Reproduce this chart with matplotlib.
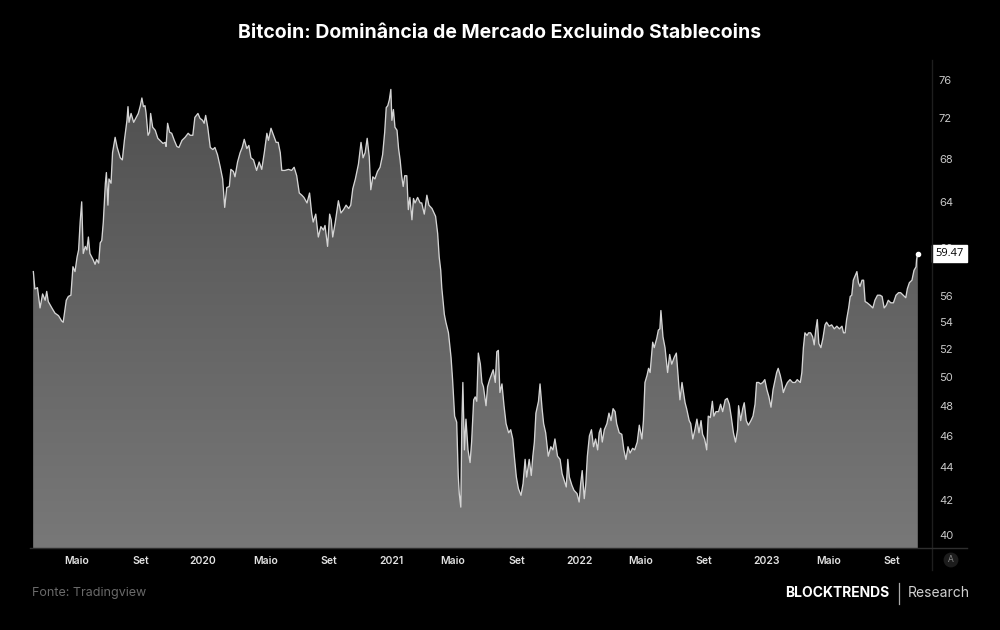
import numpy as np
import pandas as pd
import matplotlib.pyplot as plt
import matplotlib.dates as mdates
import matplotlib.transforms as mtransforms
from matplotlib.colors import LinearSegmentedColormap
from matplotlib.ticker import FixedLocator, NullLocator, FixedFormatter

# days since 2019-01-01 and the market dominance (%)
days = [
    35, 38, 43, 48, 53, 58, 61, 64, 71, 77,
    84, 90, 93, 99, 103, 108, 112, 116, 120, 123,
    126, 129, 132, 136, 139, 142, 145, 151, 155, 158,
    162, 165, 168, 171, 175, 177, 180, 182, 186, 189,
    194, 198, 204, 208, 212, 217, 219, 221, 225, 230,
    235, 239, 243, 246, 249, 252, 254, 258, 261, 263,
    267, 272, 277, 281, 287, 291, 293, 296, 300, 304,
    309, 314, 318, 324, 330, 336, 340, 345, 349, 355,
    359, 364, 367, 370, 374, 379, 384, 388, 393, 398,
    403, 407, 411, 416, 419, 424, 427, 432, 437, 441,
    445, 450, 454, 458, 463, 469, 474, 479, 484, 489,
    492, 497, 502, 507, 511, 515, 518, 524, 531, 537,
    542, 547, 552, 557, 561, 567, 572, 576, 579, 584,
    589, 594, 599, 602, 607, 611, 614, 617, 622, 628,
    633, 638, 643, 648, 652, 656, 661, 667, 672, 676,
    680, 684, 688, 691, 695, 699, 704, 709, 714, 718,
    721, 724, 727, 730, 732, 735, 738, 742, 745, 748,
    751, 754, 757, 761, 764, 767, 771, 774, 777, 782,
    787, 790, 795, 800, 804, 810, 814, 817, 821, 824,
    827, 829, 834, 837, 842, 847, 850, 854, 858, 861,
    863, 866, 868, 870, 873, 876, 880, 884, 887, 891,
    894, 897, 900, 904, 907, 910, 915, 918, 922, 926,
    929, 933, 936, 939, 942, 946, 950, 954, 959, 963,
    967, 970, 974, 978, 983, 987, 991, 994, 999, 1003,
    1006, 1009, 1012, 1017, 1020, 1024, 1027, 1031, 1036, 1041,
    1045, 1049, 1054, 1059, 1063, 1067, 1071, 1074, 1077, 1082,
    1086, 1092, 1096, 1099, 1102, 1106, 1109, 1112, 1116, 1120,
    1124, 1128, 1132, 1135, 1138, 1141, 1145, 1150, 1154, 1158,
    1162, 1166, 1169, 1174, 1179, 1183, 1187, 1191, 1195, 1200,
    1204, 1209, 1213, 1218, 1221, 1224, 1228, 1231, 1234, 1239,
    1242, 1247, 1250, 1253, 1255, 1259, 1263, 1268, 1272, 1276,
    1281, 1285, 1288, 1292, 1296, 1299, 1302, 1305, 1310, 1313,
    1317, 1321, 1325, 1329, 1333, 1336, 1340, 1344, 1347, 1351,
    1355, 1358, 1362, 1367, 1371, 1375, 1380, 1384, 1388, 1392,
    1396, 1400, 1404, 1406, 1410, 1414, 1417, 1421, 1425, 1430,
    1434, 1438, 1441, 1445, 1449, 1453, 1457, 1461, 1465, 1469,
    1473, 1476, 1480, 1483, 1487, 1490, 1493, 1497, 1501, 1506,
    1511, 1516, 1520, 1526, 1529, 1532, 1535, 1539, 1542, 1546,
    1550, 1553, 1556, 1559, 1562, 1566, 1570, 1574, 1577, 1582,
    1587, 1592, 1597, 1602, 1607, 1610, 1613, 1616, 1620, 1623,
    1626, 1629, 1633, 1636, 1639, 1642, 1646, 1649, 1652, 1656,
    1662, 1667, 1671, 1676, 1681, 1685, 1689, 1693, 1697, 1702,
    1707, 1712, 1717, 1721, 1726, 1731, 1734, 1738, 1743, 1747,
    1751, 1752, 1754,
]
dominance = [
    58.0, 56.6, 56.7, 55.1, 56.2, 55.7, 56.4, 55.6, 55.1, 54.7,
    54.5, 54.1, 54.0, 55.7, 56.0, 56.1, 58.4, 58.0, 59.2, 59.8,
    62.2, 64.0, 59.5, 60.1, 59.8, 60.9, 59.5, 59.0, 58.6, 59.0,
    58.7, 60.4, 60.6, 62.2, 65.7, 66.7, 63.7, 66.1, 65.7, 68.6,
    70.1, 69.1, 68.1, 67.9, 69.8, 71.8, 73.2, 71.6, 72.5, 71.6,
    72.1, 72.5, 73.3, 74.1, 73.2, 73.3, 72.6, 70.3, 70.6, 72.5,
    71.1, 70.8, 70.0, 69.8, 69.5, 69.6, 69.2, 71.5, 70.6, 70.5,
    69.8, 69.2, 69.1, 69.8, 70.1, 70.5, 70.3, 70.3, 72.1, 72.5,
    72.0, 71.8, 71.5, 72.3, 71.1, 69.1, 68.9, 69.1, 68.4, 67.3,
    66.1, 63.5, 65.3, 65.4, 67.0, 66.8, 66.3, 67.7, 68.6, 69.1,
    69.9, 69.0, 69.3, 68.1, 67.9, 66.9, 67.7, 67.0, 68.6, 70.5,
    69.8, 71.0, 70.3, 69.6, 69.6, 68.6, 66.9, 66.9, 67.0, 66.9,
    67.2, 66.4, 64.8, 64.6, 64.4, 63.9, 64.8, 63.0, 62.2, 62.9,
    60.9, 61.8, 61.5, 61.9, 60.1, 62.9, 62.4, 60.9, 62.2, 64.1,
    63.0, 63.3, 63.7, 63.4, 63.7, 65.2, 66.1, 67.5, 69.6, 68.1,
    68.6, 70.0, 68.2, 65.1, 66.3, 66.1, 66.8, 67.2, 68.4, 70.6,
    73.1, 73.3, 73.9, 75.0, 71.8, 72.9, 71.1, 70.8, 69.0, 67.9,
    66.4, 65.4, 66.4, 66.4, 63.3, 64.4, 62.4, 64.3, 63.9, 64.4,
    63.9, 63.9, 62.9, 64.6, 63.7, 63.4, 63.0, 62.7, 61.2, 59.2,
    58.1, 56.7, 54.6, 54.0, 53.2, 51.4, 49.8, 47.3, 46.9, 43.5,
    42.4, 41.6, 46.8, 49.6, 45.1, 47.1, 45.1, 44.3, 45.6, 48.4,
    48.6, 48.3, 51.7, 50.9, 49.6, 49.3, 48.0, 49.3, 49.8, 50.2,
    50.5, 49.6, 51.8, 51.9, 48.9, 49.5, 48.0, 46.8, 46.2, 46.4,
    45.8, 44.7, 43.4, 42.7, 42.3, 43.0, 44.5, 43.4, 44.5, 43.5,
    44.7, 45.6, 47.5, 48.3, 49.5, 47.8, 46.8, 46.2, 44.7, 45.3,
    45.1, 45.8, 44.7, 44.5, 43.6, 43.2, 42.8, 44.5, 43.4, 42.9,
    42.6, 42.4, 41.9, 43.0, 43.8, 42.1, 43.0, 44.7, 46.0, 46.4,
    45.3, 45.8, 45.1, 46.2, 46.5, 45.6, 46.4, 46.8, 47.5, 47.0,
    47.8, 47.6, 46.8, 46.2, 46.1, 45.1, 44.5, 45.3, 44.9, 45.2,
    45.1, 45.6, 46.7, 45.8, 47.0, 49.6, 50.1, 50.6, 50.3, 52.5,
    52.1, 52.8, 53.4, 53.5, 54.9, 52.9, 52.1, 50.3, 51.6, 50.9,
    51.4, 51.7, 50.3, 48.4, 49.6, 48.9, 48.2, 47.8, 47.0, 46.8,
    45.8, 46.4, 47.1, 46.2, 47.0, 46.1, 45.8, 45.1, 47.3, 47.2,
    48.3, 47.3, 47.6, 47.6, 48.1, 47.6, 48.4, 48.5, 48.1, 47.2,
    46.2, 45.6, 46.4, 48.0, 47.0, 47.8, 48.2, 47.0, 46.7, 47.0,
    47.3, 48.1, 49.6, 49.6, 49.5, 49.6, 49.8, 49.1, 48.6, 47.9,
    49.1, 49.6, 50.3, 50.6, 50.1, 49.6, 48.9, 49.3, 49.6, 49.8,
    49.6, 49.6, 49.8, 49.6, 50.3, 52.1, 53.2, 53.0, 53.2, 53.2,
    52.9, 52.3, 53.4, 54.2, 52.4, 52.1, 52.8, 53.8, 54.0, 53.7,
    53.8, 53.5, 53.7, 53.5, 53.7, 53.2, 53.2, 54.2, 55.1, 56.0,
    56.1, 57.3, 57.7, 58.0, 57.1, 56.8, 57.3, 57.3, 55.6, 55.5,
    55.3, 55.1, 55.7, 56.1, 56.1, 56.0, 55.1, 55.3, 55.7, 55.5,
    55.5, 56.1, 56.3, 56.3, 56.1, 55.9, 56.6, 57.1, 57.3, 58.1,
    58.4, 59.0, 59.47,
]

yticks = [40, 42, 44, 46, 48, 50, 52, 54, 56, 60, 64, 68, 72, 76]
tick_dates = ["2019-05-01", "2019-09-01", "2020-01-01", "2020-05-01", "2020-09-01",
              "2021-01-01", "2021-05-01", "2021-09-01", "2022-01-01", "2022-05-01",
              "2022-09-01", "2023-01-01", "2023-05-01", "2023-09-01"]
tick_labels = ["Maio", "Set", "2020", "Maio", "Set", "2021", "Maio", "Set",
               "2022", "Maio", "Set", "2023", "Maio", "Set"]
last_value = 59.47

start = pd.Timestamp("2019-01-01")
dates = start + pd.to_timedelta(days, unit="D")
x = mdates.date2num(dates)

fig = plt.figure(figsize=(10, 6.3), dpi=100, facecolor="black")
ax = fig.add_axes([0.03, 0.1302, 0.902, 0.7714])
ax.set_facecolor("black")
ax.set_yscale("log")

ybottom = 39.27
ytop = 77.96
xmin = mdates.date2num(start + pd.Timedelta(days=28.5))
xmax = mdates.date2num(start + pd.Timedelta(days=1782))
ax.set_xlim(xmin, xmax)
ax.set_ylim(ybottom, ytop)

# area with a vertical grey gradient, clipped to the filled shape
poly = ax.fill_between(x, dominance, ybottom, facecolor="#666666", edgecolor="none", zorder=1)
cmap = LinearSegmentedColormap.from_list("g", ["#787878", "#4e4e4e"])
grad = np.linspace(0, 1, 256).reshape(-1, 1)
img = ax.imshow(grad, cmap=cmap, origin="lower", aspect="auto",
                extent=[0, 1, 0, 1], transform=ax.transAxes, zorder=2)
img.set_clip_path(poly.get_paths()[0], transform=ax.transData)

ax.plot(x, dominance, color="#d4d4d4", lw=0.95, zorder=3)
ax.plot(x[-1], dominance[-1], "o", ms=3, color="white", zorder=4)

ax.set_xlim(xmin, xmax)
ax.set_ylim(ybottom, ytop)

# price scale on the right
ax.yaxis.tick_right()
ax.yaxis.set_major_locator(FixedLocator(yticks))
ax.yaxis.set_major_formatter(FixedFormatter([str(t) for t in yticks]))
ax.yaxis.set_minor_locator(NullLocator())
ax.tick_params(axis="y", length=0, pad=5, labelsize=8, labelcolor="#c8c8c8")
for lab in ax.get_yticklabels():
    lab.set_family("Inter")

ax.xaxis.set_major_locator(FixedLocator(mdates.date2num(pd.to_datetime(tick_dates))))
ax.xaxis.set_major_formatter(FixedFormatter(tick_labels))
ax.xaxis.set_minor_locator(NullLocator())
ax.tick_params(axis="x", length=0, pad=6, labelsize=7.5, labelcolor="#e2e2e2")
for lab in ax.get_xticklabels():
    lab.set_family("Inter")
    lab.set_fontweight("semibold")

for s in ax.spines.values():
    s.set_visible(False)

# separator lines of the price scale
fig.add_artist(plt.Line2D([0.932, 0.932], [1 - 60 / 630, 1 - 570 / 630],
                          color="#1e1e1e", lw=1))
fig.add_artist(plt.Line2D([0.03, 0.967], [1 - 548 / 630, 1 - 548 / 630],
                          color="#2e2e2e", lw=1))

# last value tag
trans = mtransforms.blended_transform_factory(ax.transAxes, ax.transData)
ax.text(1.004, last_value, f"{last_value:.2f}", transform=trans, ha="left", va="center",
        fontsize=8, color="black", family="Open Sans", zorder=6, clip_on=False,
        bbox=dict(boxstyle="square,pad=0.28", facecolor="white", edgecolor="white"))

fig.text(0.951, 1 - 560 / 630, "A", ha="center", va="center", fontsize=6, color="#888888",
         bbox=dict(boxstyle="circle,pad=0.35", facecolor="#1c1c1c", edgecolor="none"))

fig.text(0.5, 1 - 33 / 630, "Bitcoin: Dominância de Mercado Excluindo Stablecoins",
         ha="center", va="center", fontsize=14, fontweight="bold", color="white", family="Inter")

fig.text(0.032, 1 - 593 / 630, "Fonte: Tradingview", ha="left", va="center",
         fontsize=9, color="#6a6a6a", family="Inter")
fig.text(0.889, 1 - 593 / 630, "BLOCKTRENDS", ha="right", va="center",
         fontsize=10, fontweight="bold", color="white", family="Inter")
fig.add_artist(plt.Line2D([0.899, 0.899], [1 - 583 / 630, 1 - 604 / 630],
                          color="#aaaaaa", lw=0.9))
fig.text(0.908, 1 - 593 / 630, "Research", ha="left", va="center",
         fontsize=10, color="#d0d0d0", family="Inter")

fig.savefig("out.png", dpi=100, facecolor="black")
